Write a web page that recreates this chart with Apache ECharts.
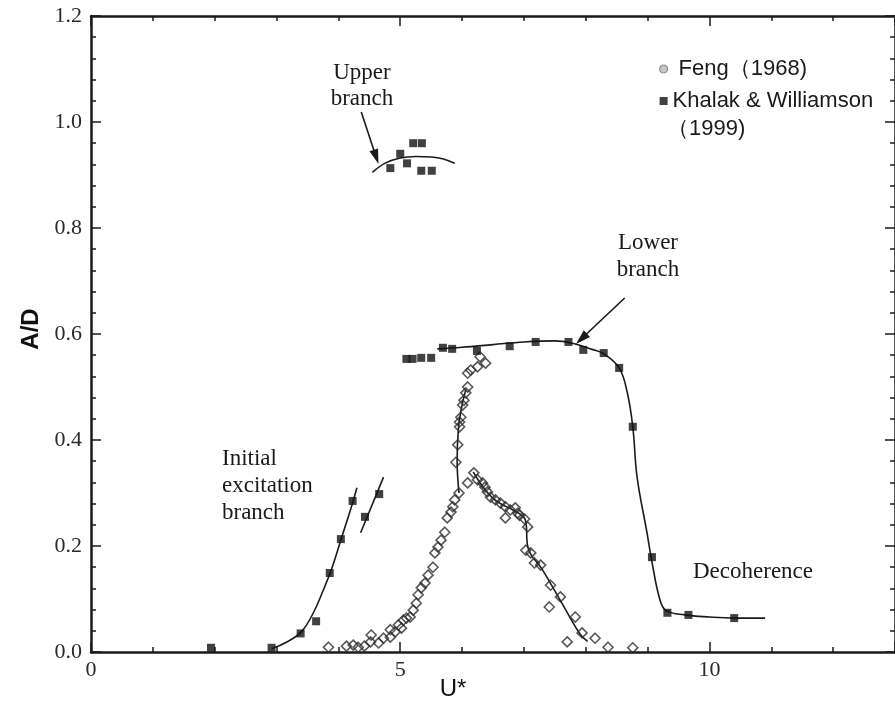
<!DOCTYPE html>
<html>
<head>
<meta charset="utf-8">
<script src="https://cdn.jsdelivr.net/npm/echarts@6/dist/echarts.min.js"></script>
<style>
  html, body { margin: 0; padding: 0; background: #ffffff; }
  #chart { width: 895px; height: 703px; }
</style>
</head>
<body>
<div id="chart"></div>
<script>
// Amplitude response A/D versus reduced velocity U*

const fengName = 'Feng（1968)';
const khalakName = 'Khalak & Williamson';
const khalakYear = '（1999)';

const xTickLabels = [0, 5, 10];

// Feng (1968), open diamonds: rising side of the peak
const fengRise = [
  [3.84, 0.009], [4.13, 0.011], [4.24, 0.013], [4.32, 0.009], [4.42, 0.011],
  [4.52, 0.019], [4.53, 0.032], [4.65, 0.017], [4.73, 0.026], [4.84, 0.028],
  [4.84, 0.042], [4.92, 0.038], [4.97, 0.051], [5.02, 0.045], [5.05, 0.060],
  [5.10, 0.064], [5.16, 0.066], [5.21, 0.079], [5.26, 0.092], [5.29, 0.108],
  [5.34, 0.121], [5.40, 0.130], [5.45, 0.145], [5.53, 0.160], [5.56, 0.187],
  [5.61, 0.198], [5.66, 0.211], [5.72, 0.226], [5.76, 0.253], [5.82, 0.264],
  [5.85, 0.274], [5.88, 0.287], [5.95, 0.300], [5.90, 0.358], [5.93, 0.391],
  [5.96, 0.425], [5.96, 0.434], [5.98, 0.443], [6.01, 0.466], [6.03, 0.475],
  [6.06, 0.489], [6.09, 0.500], [6.09, 0.526], [6.14, 0.532], [6.25, 0.538],
  [6.29, 0.557], [6.38, 0.545]
];

// Feng (1968), open diamonds: falling side of the peak
const fengFall = [
  [6.19, 0.338], [6.09, 0.319], [6.25, 0.325], [6.33, 0.319], [6.37, 0.311],
  [6.41, 0.302], [6.46, 0.292], [6.54, 0.287], [6.62, 0.281], [6.70, 0.274],
  [6.78, 0.268], [6.86, 0.272], [6.90, 0.262], [6.93, 0.258], [6.70, 0.253],
  [7.01, 0.251], [7.06, 0.236], [7.03, 0.192], [7.11, 0.187], [7.17, 0.168],
  [7.27, 0.164], [7.43, 0.126], [7.59, 0.104], [7.41, 0.085], [7.83, 0.066],
  [7.94, 0.036], [7.70, 0.019], [8.15, 0.026], [8.36, 0.009], [8.76, 0.008]
];

// Khalak & Williamson (1999), filled squares
const khalakInitial = [
  [1.94, 0.008], [2.92, 0.008], [3.39, 0.035], [3.64, 0.058], [3.86, 0.149],
  [4.04, 0.213], [4.23, 0.285], [4.43, 0.255], [4.66, 0.298]
];
const khalakUpper = [
  [4.84, 0.913], [5.00, 0.940], [5.11, 0.922], [5.21, 0.960], [5.35, 0.960],
  [5.34, 0.908], [5.51, 0.908]
];
const khalakLower = [
  [5.10, 0.553], [5.20, 0.553], [5.34, 0.555], [5.50, 0.555], [5.69, 0.574],
  [5.84, 0.572], [6.24, 0.568], [6.77, 0.577], [7.19, 0.585], [7.72, 0.585],
  [7.96, 0.570], [8.29, 0.564], [8.54, 0.536], [8.76, 0.425], [9.07, 0.179],
  [9.32, 0.074], [9.66, 0.070], [10.40, 0.064]
];

// Hand-drawn fit curves through each branch
const fitInitialA = [
  [2.92, 0.006], [3.15, 0.018], [3.40, 0.038], [3.60, 0.075], [3.75, 0.115],
  [3.90, 0.160], [4.05, 0.215], [4.20, 0.270], [4.30, 0.310]
];
const fitInitialB = [[4.36, 0.225], [4.73, 0.330]];
const fitUpper = [
  [4.55, 0.905], [4.75, 0.922], [5.00, 0.932], [5.25, 0.935], [5.50, 0.934],
  [5.70, 0.930], [5.88, 0.922]
];
const fitLower = [
  [5.60, 0.572], [6.00, 0.575], [6.50, 0.580], [7.00, 0.585], [7.50, 0.587],
  [7.80, 0.582], [8.10, 0.571], [8.30, 0.562], [8.54, 0.536], [8.67, 0.490],
  [8.76, 0.425], [8.83, 0.330], [8.99, 0.225], [9.07, 0.170], [9.20, 0.098],
  [9.30, 0.078], [9.60, 0.070], [10.00, 0.066], [10.40, 0.064], [10.90, 0.064]
];
const fitFengRise = [[5.95, 0.300], [5.92, 0.360], [5.94, 0.420], [5.99, 0.460], [6.06, 0.495]];
const fitFengFall = [
  [6.18, 0.340], [6.50, 0.290], [6.90, 0.263], [7.02, 0.250], [7.07, 0.195],
  [7.30, 0.155], [7.60, 0.095], [7.90, 0.035], [8.03, 0.020]
];

// Arrows pointing at the branch curves (data units)
const upperArrow = [[4.37, 1.019], [4.61, 0.934]];
const lowerArrow = [[8.63, 0.668], [7.93, 0.591]];

const ink = '#1a1a1a';
const serif = '"Liberation Serif", "Times New Roman", serif';
const sans = '"Liberation Sans", Arial, sans-serif';

const chart = echarts.init(document.getElementById('chart'), null, { renderer: 'canvas' });

function xAxisDef(position, interval, tickLen, withLine, withLabels) {
  return {
    type: 'value', position: position, min: 0, max: 13, interval: interval,
    axisLine: { show: withLine, onZero: false, lineStyle: { color: ink, width: 2.5 } },
    axisTick: { show: true, inside: true, length: tickLen, lineStyle: { color: ink, width: 1.5 } },
    axisLabel: {
      show: withLabels, margin: 7, showMaxLabel: false,
      fontFamily: serif, fontSize: 22, color: '#2a2a2a',
      formatter: v => (xTickLabels.indexOf(v) >= 0 ? String(v) : '')
    },
    splitLine: { show: false }
  };
}

function yAxisDef(position, withLabels) {
  return {
    type: 'value', position: position, min: 0, max: 1.2, interval: 0.2,
    axisLine: { show: true, onZero: false, lineStyle: { color: ink, width: 2.5 } },
    axisTick: { show: true, inside: true, length: 10, lineStyle: { color: ink, width: 1.5 } },
    minorTick: { show: true, splitNumber: 5, length: 5, lineStyle: { color: ink, width: 1.5 } },
    axisLabel: {
      show: withLabels, margin: 9, fontFamily: serif, fontSize: 22, color: '#2a2a2a',
      formatter: v => v.toFixed(1)
    },
    splitLine: { show: false }
  };
}

function fitLine(data) {
  return {
    type: 'line', data: data, smooth: 0.4, smoothMonotone: null,
    symbol: 'none', silent: true, z: 2,
    lineStyle: { color: ink, width: 1.6 }
  };
}

const arrowStyle = {
  silent: true, symbol: ['none', 'triangle'], symbolSize: [9, 15],
  label: { show: false }, lineStyle: { color: ink, width: 1.6, type: 'solid' },
  itemStyle: { color: ink }, animation: false
};

const option = {
  animation: false,
  backgroundColor: '#ffffff',
  grid: { left: 91, top: 16, width: 809, height: 636, containLabel: false },
  xAxis: [
    xAxisDef('bottom', 1, 5, true, true),
    xAxisDef('bottom', 5, 10, false, false),
    xAxisDef('top', 1, 5, true, false),
    xAxisDef('top', 5, 10, false, false)
  ],
  yAxis: [yAxisDef('left', true), yAxisDef('right', false)],
  legend: {
    orient: 'vertical', left: 654, top: 52,
    itemWidth: 8, itemHeight: 8, itemGap: 8,
    textStyle: { fontFamily: sans, fontSize: 22, color: '#1a1a1a', lineHeight: 24 },
    data: [
      { name: fengName, icon: 'circle',
        itemStyle: { color: '#b8b8b8', borderColor: '#7a7a7a', borderWidth: 1.2 },
        textStyle: { padding: [0, 0, 0, 6] } },
      { name: khalakName, icon: 'rect',
        itemStyle: { color: '#111', borderWidth: 0 },
        textStyle: { padding: [0, 0, 0, 0] } }
    ]
  },
  series: [
    fitLine(fitInitialA),
    fitLine(fitInitialB),
    Object.assign(fitLine(fitUpper), { markLine: Object.assign({ data: [[{ coord: upperArrow[0] }, { coord: upperArrow[1] }]] }, arrowStyle) }),
    Object.assign(fitLine(fitLower), { markLine: Object.assign({ data: [[{ coord: lowerArrow[0] }, { coord: lowerArrow[1] }]] }, arrowStyle) }),
    fitLine(fitFengRise),
    fitLine(fitFengFall),
    {
      name: fengName, type: 'scatter', data: fengRise.concat(fengFall),
      symbol: 'diamond', symbolSize: 10, z: 3,
      itemStyle: { color: 'rgba(255,255,255,0)', borderColor: '#2e2e2e', borderWidth: 1.6 }
    },
    {
      name: khalakName, type: 'scatter', data: khalakInitial.concat(khalakUpper, khalakLower),
      symbol: 'rect', symbolSize: 8, z: 4,
      itemStyle: { color: '#111' }
    }
  ],
  graphic: [
    { type: 'text', left: 667, top: 118,
      style: { text: khalakYear, font: '22px ' + sans, fill: '#1a1a1a' } },
    { type: 'text', x: 31, y: 329, rotation: Math.PI / 2,
      style: { text: 'A/D', font: 'bold 24px ' + sans, fill: '#111', align: 'center', verticalAlign: 'middle' } },
    { type: 'text', x: 453, y: 689,
      style: { text: 'U*', font: '24px ' + sans, fill: '#111', align: 'center', verticalAlign: 'middle' } },
    { type: 'text', x: 362, y: 86,
      style: { text: 'Upper\nbranch', font: '23px ' + serif, lineHeight: 26, fill: '#1a1a1a', align: 'center', verticalAlign: 'middle' } },
    { type: 'text', x: 648, y: 256,
      style: { text: 'Lower\nbranch', font: '23px ' + serif, lineHeight: 27, fill: '#1a1a1a', align: 'center', verticalAlign: 'middle' } },
    { type: 'text', x: 222, y: 486,
      style: { text: 'Initial\nexcitation\nbranch', font: '23px ' + serif, lineHeight: 27, fill: '#1a1a1a', align: 'left', verticalAlign: 'middle' } },
    { type: 'text', x: 693, y: 572,
      style: { text: 'Decoherence', font: '23px ' + serif, fill: '#1a1a1a', align: 'left', verticalAlign: 'middle' } }
  ]
};

chart.setOption(option);
</script>
</body>
</html>
